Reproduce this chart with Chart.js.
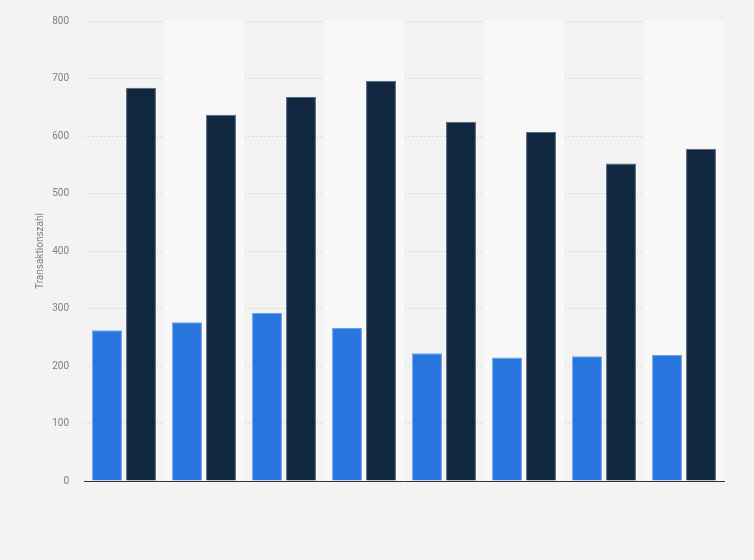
<!DOCTYPE html>
<html>
<head>
<meta charset="utf-8">
<script src="https://cdn.jsdelivr.net/npm/chart.js@4/dist/chart.umd.min.js"></script>
<style>
  html, body { margin: 0; padding: 0; background: #f3f3f3; }
  #wrap { width: 754px; height: 560px; position: relative; }
</style>
</head>
<body>
<div id="wrap"><canvas id="chart" width="754" height="560"></canvas></div>
<script>
const categories = ["1", "2", "3", "4", "5", "6", "7", "8"];
const seriesA = [262, 276, 292, 266, 222, 215, 217, 219];
const seriesB = [684, 637, 668, 696, 625, 607, 552, 578];
const yTicks = [0, 100, 200, 300, 400, 500, 600, 700, 800];

// light bands behind every second category
const bandPlugin = {
  id: "bands",
  beforeDatasetsDraw(chart) {
    const { ctx, chartArea, scales } = chart;
    const x = scales.x;
    const step = x.width / categories.length;
    ctx.save();
    ctx.fillStyle = "#f8f8f8";
    categories.forEach((c, i) => {
      if (i % 2 === 1) {
        const cx = x.getPixelForValue(i);
        ctx.fillRect(cx - step / 2, chartArea.top, step, chartArea.bottom - chartArea.top);
      }
    });
    ctx.restore();
  },
};

new Chart(document.getElementById("chart"), {
  type: "bar",
  data: {
    labels: categories,
    datasets: [
      {
        label: "A",
        data: seriesA,
        backgroundColor: "#2876dd",
        borderColor: "#6aa3ec",
        borderWidth: 1,
        categoryPercentage: 0.85,
        barPercentage: 0.88,
      },
      {
        label: "B",
        data: seriesB,
        backgroundColor: "#10273f",
        borderColor: "#56687b",
        borderWidth: 1,
        categoryPercentage: 0.85,
        barPercentage: 0.88,
      },
    ],
  },
  options: {
    responsive: false,
    animation: false,
    layout: { padding: { top: 15, right: 30, bottom: 79, left: 0 } },
    plugins: { legend: { display: false }, tooltip: { enabled: false } },
    scales: {
      x: {
        ticks: { display: false },
        grid: { display: false, drawTicks: false },
        border: { display: true, color: "#333333", width: 1 },
      },
      y: {
        min: 0,
        max: 800,
        afterBuildTicks(axis) { axis.ticks = yTicks.map(v => ({ value: v })); },
        afterFit(axis) { axis.width = 84; },
        ticks: { color: "#808080", font: { family: "Roboto", size: 10 }, padding: 15 },
        grid: { color: "#dcdcdc", drawTicks: false },
        border: { display: false, dash: [2, 2] },
        title: {
          display: true,
          text: "Transaktionszahl",
          color: "#808080",
          font: { family: "Roboto", size: 10 },
          padding: { top: 34, bottom: 0 },
        },
      },
    },
  },
  plugins: [bandPlugin],
});
</script>
</body>
</html>
